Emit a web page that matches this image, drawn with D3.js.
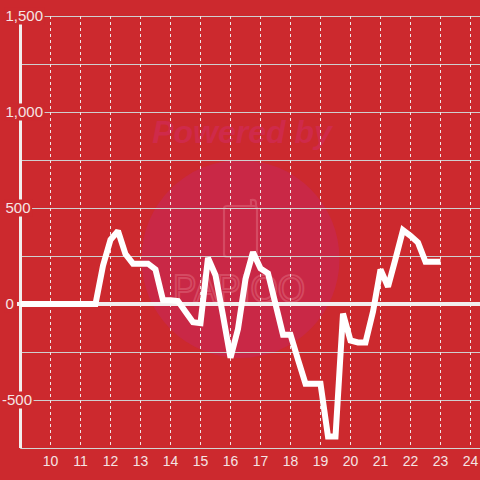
<!DOCTYPE html>
<html>
<head>
<meta charset="utf-8">
<script src="https://cdn.jsdelivr.net/npm/d3@7"></script>
<style>
  html, body { margin: 0; padding: 0; background: #cc292e; }
  svg { display: block; }
  text { font-family: "Liberation Sans", Arial, sans-serif; }
</style>
</head>
<body>
<svg id="chart" width="480" height="480"></svg>
<script>
// ---- data ----
const times = [9, 9.5, 10, 10.5, 11, 11.5, 11.75, 12, 12.25, 12.5, 12.75, 13, 13.25, 13.5, 13.75,
  14, 14.25, 14.5, 14.75, 15, 15.25, 15.5, 15.75, 16, 16.25, 16.5, 16.75, 17, 17.25, 17.5, 17.75,
  18, 18.25, 18.5, 18.75, 19, 19.25, 19.5, 19.75, 20, 20.25, 20.5, 20.75, 21, 21.25, 21.5, 21.75,
  22, 22.25, 22.5, 22.75, 23];
const values = [0, 0, 0, 0, 0, 0, 200, 335, 380, 260, 210, 210, 210, 180, 20,
  20, 15, -40, -95, -100, 240, 150, -60, -280, -130, 130, 270, 185, 160, 0, -160,
  -160, -290, -415, -415, -415, -690, -690, -50, -190, -200, -200, -40, 180, 90, 235, 385,
  355, 320, 220, 220, 220];
const xTickValues = [10, 11, 12, 13, 14, 15, 16, 17, 18, 19, 20, 21, 22, 23, 24];
const yTickValues = [-500, 0, 500, 1000, 1500];
const yTickLabels = ["-500", "0", "500", "1,000", "1,500"];
const yGridValues = [-750, -500, -250, 0, 250, 500, 750, 1000, 1250, 1500];
const yDomain = [-750, 1500];
const xDomain = [9, 24.3167];
const watermarkTitle = "Powered by";
const watermarkLogo = "PAPIOO";

// ---- setup ----
const W = 480, H = 480;
const svg = d3.select("#chart");
const BG = "#cc292e";
const plotLeft = 20.5, plotTop = 16, plotBottom = 448, plotRight = 480;

const x = d3.scaleLinear().domain(xDomain).range([plotLeft, plotRight]);
const y = d3.scaleLinear().domain(yDomain).range([plotBottom, plotTop]);

svg.append("rect").attr("width", W).attr("height", H).attr("fill", BG);

// ---- watermark ----
const wm = svg.append("g");
wm.append("circle").attr("cx", 240.5).attr("cy", 259).attr("r", 99).attr("fill", "#c92846");
wm.append("text").attr("x", 242).attr("y", 143).attr("text-anchor", "middle")
  .attr("font-size", 32).attr("font-weight", "bold").attr("font-style", "italic")
  .attr("fill", "#cf2a4a").text(watermarkTitle);
wm.append("rect").attr("x", 224).attr("y", 206).attr("width", 33).attr("height", 51).attr("rx", 3)
  .attr("fill", "none").attr("stroke", "#d44a62").attr("stroke-width", 2.2);
wm.append("path").attr("d", "M251,206 L251,200 Q256,199 256,203 L256,207")
  .attr("fill", "none").attr("stroke", "#d44a62").attr("stroke-width", 2.2);
wm.append("text").attr("x", 173).attr("y", 302).attr("font-size", 38)
  .attr("textLength", 132).attr("lengthAdjust", "spacingAndGlyphs")
  .attr("fill", "none").attr("stroke", "#d44a62").attr("stroke-width", 2)
  .text(watermarkLogo);

// ---- grid ----
const grid = svg.append("g");
grid.selectAll("line.h").data(yGridValues).join("line")
  .attr("x1", plotLeft).attr("x2", plotRight)
  .attr("y1", d => y(d) + 0.5).attr("y2", d => y(d) + 0.5)
  .attr("stroke", "#cfcfcf").attr("stroke-width", 1.2);
grid.selectAll("line.v").data(xTickValues).join("line")
  .attr("x1", d => Math.round(x(d)) + 0.5).attr("x2", d => Math.round(x(d)) + 0.5)
  .attr("y1", plotTop).attr("y2", plotBottom)
  .attr("stroke", "#f0e6e6").attr("stroke-width", 1).attr("stroke-dasharray", "3,3");

// y axis line
svg.append("line").attr("x1", plotLeft).attr("x2", plotLeft)
  .attr("y1", plotTop).attr("y2", plotBottom)
  .attr("stroke", "#f2eeee").attr("stroke-width", 3);

// y labels with background boxes
const yLab = svg.append("g");
yTickValues.forEach((v, i) => {
  const g = yLab.append("g");
  const label = yTickLabels[i];
  const tx = v < 0 ? 2 : 5.5;
  const rect = g.append("rect").attr("fill", BG);
  const t = g.append("text").attr("x", tx).attr("y", y(v)).attr("dy", "0.35em")
    .attr("font-size", 15).attr("fill", "#f5e4e4").text(label);
  const bb = t.node().getBBox();
  rect.attr("x", bb.x - 1).attr("y", y(v) - 8.5).attr("width", bb.width + 2.5).attr("height", 17);
});

// zero line
svg.append("line").attr("x1", 17).attr("x2", plotRight)
  .attr("y1", y(0)).attr("y2", y(0))
  .attr("stroke", "#f2eeee").attr("stroke-width", 4);

// x axis bottom line
svg.append("line").attr("x1", plotLeft).attr("x2", plotRight)
  .attr("y1", plotBottom + 0.5).attr("y2", plotBottom + 0.5)
  .attr("stroke", "#d4d4d4").attr("stroke-width", 1);

// x labels
svg.append("g").selectAll("text").data(xTickValues).join("text")
  .attr("x", d => x(d)).attr("y", 466).attr("text-anchor", "middle")
  .attr("font-size", 14).attr("fill", "#f5e4e4").text(d => d);

// ---- data line ----
const pts = times.map((t, i) => [t, values[i]]);
svg.append("path").datum(pts)
  .attr("d", d3.line().x(d => x(d[0])).y(d => y(d[1])))
  .attr("fill", "none").attr("stroke", "#ffffff").attr("stroke-width", 6)
  .attr("stroke-linejoin", "miter").attr("stroke-miterlimit", 2);
</script>
</body>
</html>
